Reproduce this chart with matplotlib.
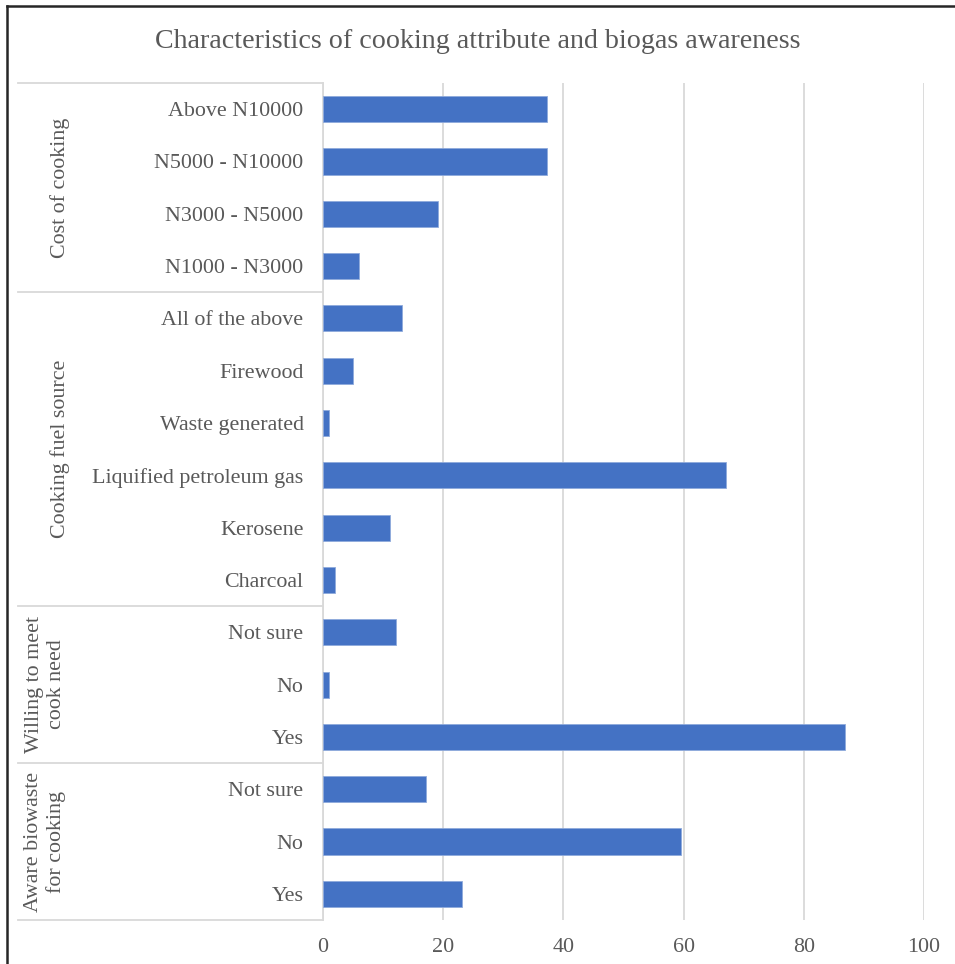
import numpy as np
import matplotlib.pyplot as plt
from matplotlib.lines import Line2D

# survey groups, top to bottom
groups = ["Cost of cooking", "Cooking fuel source",
          "Willing to meet\ncook need", "Aware biowaste\nfor cooking"]
categories = [
    ["Above N10000", "N5000 - N10000", "N3000 - N5000", "N1000 - N3000"],
    ["All of the above", "Firewood", "Waste generated",
     "Liquified petroleum gas", "Kerosene", "Charcoal"],
    ["Not sure", "No", "Yes"],
    ["Not sure", "No", "Yes"],
]
values = [
    [37.3, 37.3, 19.1, 6.0],
    [13.1, 5.0, 1.0, 67.0, 11.1, 2.0],
    [12.1, 1.0, 86.9],
    [17.2, 59.6, 23.2],
]

labels = [c for g in categories for c in g]
vals = [v for g in values for v in g]
pos = np.arange(len(labels))

plt.rcParams['font.family'] = ['Liberation Serif', 'DejaVu Serif']
txt = '#595959'
grid = '#D9D9D9'

W, H = 955, 964
fig = plt.figure(figsize=(W / 100, H / 100), dpi=100)
ax = fig.add_axes([323 / W, 1 - 920 / H, (924 - 323) / W, (920 - 83) / H])

ax.barh(pos, vals, height=0.5, color='#4472C4', edgecolor='#8FAADC',
        linewidth=0.6, zorder=3)
ax.set_xlim(0, 100)
ax.set_ylim(len(labels) - 0.5, -0.5)
ax.set_xticks(np.arange(0, 101, 20))
ax.set_yticks(pos, labels)
ax.tick_params(axis='both', length=0, colors=txt, labelsize=15.8)
ax.tick_params(axis='y', pad=14)
ax.tick_params(axis='x', pad=13)
ax.xaxis.grid(True, color=grid, linewidth=1.3, zorder=0)
for s in ['top', 'right', 'bottom']:
    ax.spines[s].set_visible(False)
ax.spines['left'].set_color(grid)
ax.spines['left'].set_linewidth(1.3)

# group divider lines and rotated group names
trans = ax.get_yaxis_transform()
x0 = (18 - 323) / (924 - 323)
start = 0
gx = [-0.437, -0.437, -0.462, -0.462]
for i, g in enumerate(groups):
    n = len(categories[i])
    ax.plot([x0, 0], [start - 0.5, start - 0.5], color=grid, lw=1.3,
            transform=trans, clip_on=False)
    ax.text(gx[i], start + (n - 1) / 2, g, rotation=90, ha='center',
            va='center', color=txt, fontsize=15.8, linespacing=1.2,
            transform=trans)
    start += n
ax.plot([x0, 0], [start - 0.5, start - 0.5], color=grid, lw=1.3,
        transform=trans, clip_on=False)

fig.text(0.5, 1 - 41 / H, "Characteristics of cooking attribute and biogas awareness",
         ha='center', va='center', color=txt, fontsize=20.2)

# outer frame (top and left edges only)
fig.add_artist(Line2D([6.5 / W, 1], [1 - 5.5 / H, 1 - 5.5 / H], color='#262626', lw=1.8))
fig.add_artist(Line2D([6.5 / W, 6.5 / W], [0, 1 - 5.5 / H], color='#262626', lw=1.8))

fig.savefig('out.png', dpi=100)
